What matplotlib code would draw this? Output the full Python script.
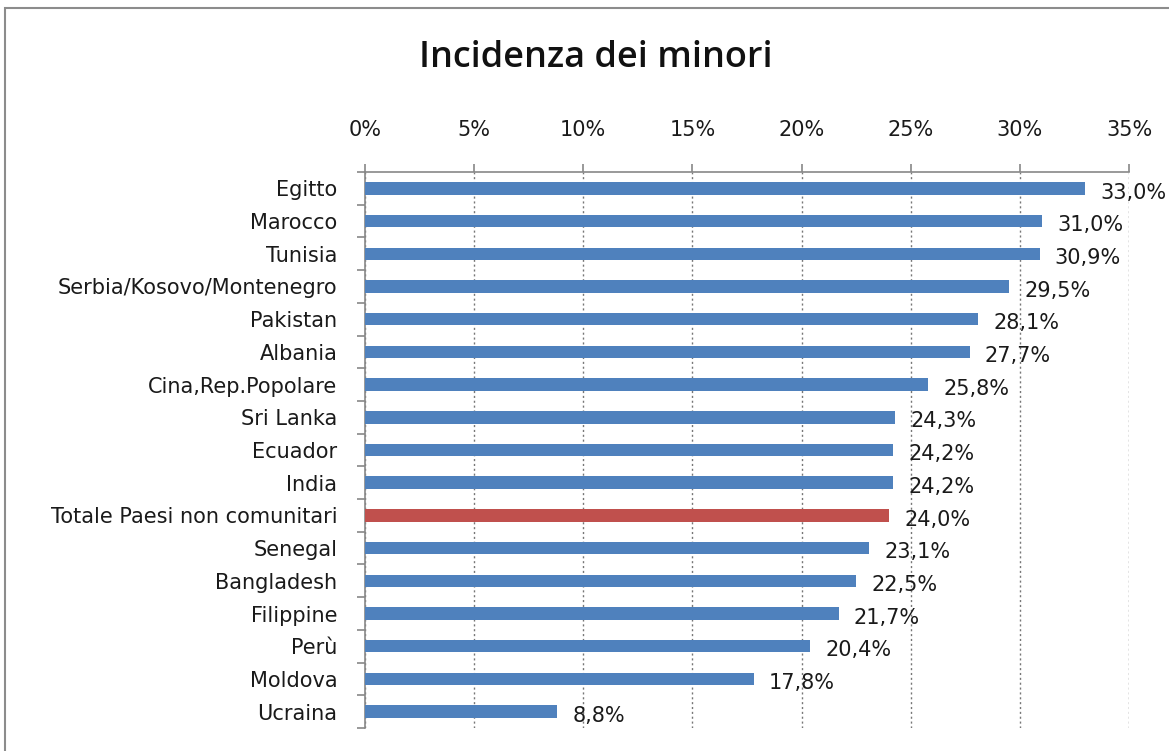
import matplotlib
matplotlib.use("Agg")
import matplotlib.pyplot as plt
from matplotlib.patches import Rectangle
import numpy as np

categories = ["Egitto", "Marocco", "Tunisia", "Serbia/Kosovo/Montenegro", "Pakistan",
              "Albania", "Cina,Rep.Popolare", "Sri Lanka", "Ecuador", "India",
              "Totale Paesi non comunitari", "Senegal", "Bangladesh", "Filippine",
              "Perù", "Moldova", "Ucraina"]
values = [33.0, 31.0, 30.9, 29.5, 28.1, 27.7, 25.8, 24.3, 24.2, 24.2,
          24.0, 23.1, 22.5, 21.7, 20.4, 17.8, 8.8]
highlight = "Totale Paesi non comunitari"
xticks = [0, 5, 10, 15, 20, 25, 30, 35]

plt.rcParams['font.family'] = ['DejaVu Sans']
fig = plt.figure(figsize=(11.69, 7.51), dpi=100)
ax = fig.add_axes([365/1169, 1-728/751, (1129-365)/1169, (728-172)/751])

FS = 15
TXT = "#1a1a1a"
n = len(categories)
y = np.arange(n)
colors = ["#C0504D" if c == highlight else "#4F81BD" for c in categories]
ax.barh(y, values, height=0.38, color=colors, zorder=3)
ax.set_ylim(n - 0.5, -0.5)
ax.set_xlim(0, 35)

ax.set_yticks(y)
ax.set_yticklabels(categories, fontsize=FS, color=TXT)
ax.set_yticks(np.arange(n + 1) - 0.5, minor=True)
ax.tick_params(axis='y', which='major', length=0, pad=20)
ax.tick_params(axis='y', which='minor', length=6, color="#888888", width=1.2)

ax.xaxis.tick_top()
ax.set_xticks(xticks)
ax.set_xticklabels([f"{t}%" for t in xticks], fontsize=FS, color=TXT)
ax.tick_params(axis='x', which='major', length=6, color="#888888", width=1.2, pad=17, direction='out')

for s in ['right', 'bottom']:
    ax.spines[s].set_visible(False)
for s in ['left', 'top']:
    ax.spines[s].set_color("#888888")
    ax.spines[s].set_linewidth(1.2)

ax.grid(axis='x', linestyle=(0, (1.5, 2)), color="#777777", linewidth=1, zorder=1)

for yi, v in zip(y, values):
    ax.annotate(f"{v:.1f}%".replace(".", ","), (v, yi), xytext=(11, -3),
                textcoords='offset points', va='center', ha='left',
                fontsize=FS, color=TXT, zorder=4)

fig.text(596/1169, 1-58/751, "Incidenza dei minori", ha='center', va='center',
         fontsize=26, fontweight='semibold', family=['Open Sans', 'DejaVu Sans'],
         color="#111111")

fig.patches.append(Rectangle((5/1169, -0.1), 2, 1 - 8/751 + 0.1, transform=fig.transFigure,
                             fill=False, edgecolor="#8c8c8c", linewidth=1.5, figure=fig))

fig.savefig("out.png", dpi=100)
